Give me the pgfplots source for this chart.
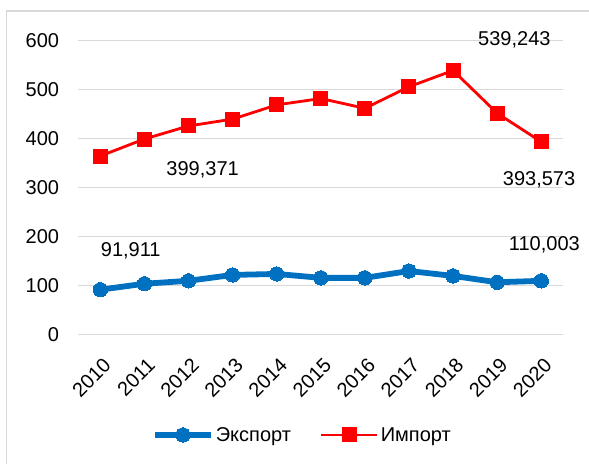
\documentclass[border=0pt]{standalone}
\usepackage{fontspec}
\setmainfont{Liberation Sans}
\usepackage{pgfplots}
\pgfplotsset{compat=1.18}
\definecolor{expblue}{HTML}{0070C0}
\definecolor{impred}{HTML}{FF0000}
\definecolor{gridgray}{HTML}{D9D9D9}
\begin{document}
\begin{tikzpicture}
\begin{axis}[
  at={(78.3pt,129.3pt)}, anchor=south west,
  scale only axis, width=485pt, height=294pt,
  xmin=2009.5, xmax=2020.5, ymin=0, ymax=600,
  xtick={2010,...,2020},
  xticklabels={2010,2011,2012,2013,2014,2015,2016,2017,2018,2019,2020},
  ytick={0,100,...,600},
  ymajorgrids, major grid style={gridgray, line width=1.2pt},
  axis line style={draw=none},
  major tick length=0pt,
  clip=false,
  font=\fontsize{20}{24}\selectfont,
  /pgf/number format/assume math mode=true,
  yticklabel style={anchor=east, inner sep=0pt, xshift=-19pt},
  xticklabel style={anchor=east, inner sep=0pt, xshift=7pt, yshift=-27pt, rotate=45},
  legend style={at={(0.462,-0.341)}, anchor=center, draw=none, fill=none,
    font=\fontsize{20}{24}\selectfont, legend columns=2,
    /tikz/every even column/.append style={column sep=27pt},
    nodes={inner sep=2pt}},
  legend cell align=left,
  legend image code/.code={\draw[#1, mark repeat=2, mark phase=2] plot coordinates {(0pt,0pt) (28pt,0pt) (56pt,0pt)};},
]
\addplot[expblue, line width=5.8pt, mark=*, mark size=7.2pt, mark options={fill=expblue, draw=expblue, line width=0pt}]
  coordinates {(2010,91.911) (2011,104) (2012,110) (2013,122) (2014,124) (2015,116) (2016,116) (2017,130) (2018,120) (2019,107) (2020,110.003)};
\addlegendentry{Экспорт}
\addplot[impred, line width=2.8pt, mark=square*, mark size=7pt, mark options={fill=impred, draw=impred, line width=0pt}]
  coordinates {(2010,364.7) (2011,399.371) (2012,426) (2013,440) (2014,469) (2015,482) (2016,462) (2017,506) (2018,539.243) (2019,452) (2020,393.573)};
\addlegendentry{Импорт}
\node[anchor=base, inner sep=0pt] at (axis cs:2010.69,160.6) {91,911};
\node[anchor=base, inner sep=0pt] at (axis cs:2020.07,171.4) {110,003};
\node[anchor=base, inner sep=0pt] at (axis cs:2012.32,323.9) {399,371};
\node[anchor=base, inner sep=0pt] at (axis cs:2019.39,591.2) {539,243};
\node[anchor=base, inner sep=0pt] at (axis cs:2019.95,305.5) {393,573};
\end{axis}
\draw[gridgray, line width=1.3pt] (6.7pt,0pt) -- (6.7pt,453pt) -- (600pt,453pt);
\pgfresetboundingbox
\path[use as bounding box] (0pt,0pt) rectangle (589pt,464pt);
\end{tikzpicture}
\end{document}
